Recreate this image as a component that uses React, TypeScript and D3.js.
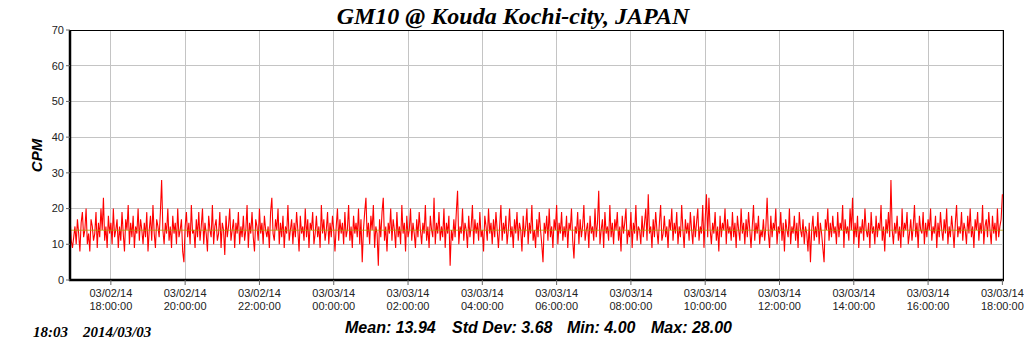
import React from "react";
import * as d3 from "d3";

const TITLE = "GM10 @ Kouda Kochi-city, JAPAN";
const Y_LABEL = "CPM";
const STAMP_TIME = "18:03";
const STAMP_DATE = "2014/03/03";
const STAT_LABELS = ["Mean: 13.94", "Std Dev: 3.68", "Min: 4.00", "Max: 28.00"];
const MEAN_VALUE = 13.94;
const Y_TICKS = [0, 10, 20, 30, 40, 50, 60, 70];
const START = new Date(2014, 2, 2, 16, 54);
const END = new Date(2014, 2, 3, 18, 1);
const STEP_MIN = 2;

const CPM: number[] = [
  18, 11, 9, 12, 15, 10, 17, 13, 8, 16, 19, 12, 14, 20, 10, 13, 8, 17, 15, 11,
  13, 19, 9, 16, 12, 20, 14, 23, 11, 15, 9, 18, 13, 16, 10, 20, 12, 14, 17, 9,
  15, 11, 19, 13, 8, 17, 14, 21, 10, 16, 12, 18, 9, 15, 13, 20, 11, 17, 14, 10,
  16, 12, 19, 8, 14, 18, 11, 21, 13, 9, 17, 15, 12, 19, 28, 14, 10, 16, 13, 20,
  11, 15, 9, 18, 13, 16, 10, 20, 12, 14, 17, 8, 5, 15, 19, 12, 16, 10, 21, 13,
  14, 9, 17, 12, 19, 11, 15, 20, 10, 16, 13, 8, 18, 14, 12, 21, 10, 15, 17, 11,
  13, 19, 9, 16, 14, 7, 18, 12, 15, 20, 11, 14, 17, 9, 16, 13, 19, 10, 15, 12,
  18, 11, 14, 21, 9, 16, 13, 19, 12, 8, 17, 15, 11, 20, 13, 16, 10, 18, 14, 12,
  15, 9, 19, 23, 13, 11, 17, 14, 20, 10, 16, 12, 18, 9, 15, 13, 21, 11, 14, 17,
  10, 16, 12, 19, 14, 8, 18, 13, 15, 11, 20, 12, 17, 9, 16, 14, 19, 10, 13, 18,
  12, 15, 9, 21, 13, 17, 11, 14, 19, 10, 16, 12, 18, 14, 8, 15, 20, 11, 17, 13,
  16, 10, 19, 12, 14, 21, 11, 15, 9, 18, 13, 16, 12, 20, 10, 17, 5, 14, 19, 23,
  12, 16, 10, 18, 14, 21, 9, 15, 13, 4, 17, 12, 19, 23, 11, 15, 8, 16, 13, 20,
  11, 17, 14, 9, 19, 12, 15, 10, 21, 13, 16, 8, 18, 12, 14, 20, 11, 16, 13, 9,
  17, 12, 19, 14, 10, 16, 13, 21, 11, 15, 9, 18, 14, 12, 23, 10, 16, 13, 19, 11,
  15, 12, 20, 9, 16, 13, 18, 4, 14, 11, 17, 12, 19, 25, 10, 15, 13, 20, 11, 16,
  14, 9, 18, 12, 15, 21, 10, 17, 13, 16, 11, 19, 12, 14, 8, 18, 15, 11, 20, 13,
  16, 10, 17, 12, 19, 14, 9, 15, 21, 11, 16, 13, 18, 10, 14, 20, 12, 15, 9, 17,
  13, 19, 11, 16, 14, 8, 18, 12, 15, 20, 10, 16, 13, 21, 11, 14, 9, 17, 12, 19,
  14, 10, 5, 16, 13, 18, 11, 20, 12, 15, 9, 17, 14, 21, 10, 16, 13, 19, 11, 15,
  12, 18, 9, 16, 14, 20, 11, 6, 15, 13, 19, 10, 17, 12, 15, 21, 11, 14, 16, 9,
  18, 13, 15, 11, 20, 12, 16, 25, 10, 14, 17, 9, 19, 13, 15, 11, 21, 12, 16, 10,
  17, 14, 19, 11, 15, 8, 18, 13, 16, 20, 10, 14, 12, 19, 9, 16, 13, 21, 11, 15,
  14, 10, 18, 12, 16, 20, 11, 24, 13, 15, 9, 17, 12, 19, 14, 10, 16, 21, 11, 13,
  18, 12, 15, 9, 17, 14, 20, 11, 16, 13, 19, 10, 15, 12, 21, 14, 9, 17, 13, 16,
  11, 19, 14, 10, 18, 12, 16, 20, 11, 15, 13, 21, 9, 17, 24, 12, 23, 14, 10, 16,
  13, 19, 11, 15, 8, 18, 12, 16, 14, 20, 10, 17, 13, 15, 11, 19, 12, 16, 9, 18,
  14, 11, 20, 13, 16, 10, 17, 12, 19, 14, 9, 15, 21, 11, 16, 13, 18, 10, 14, 12,
  17, 11, 15, 23, 13, 9, 18, 12, 16, 14, 20, 10, 15, 13, 19, 11, 16, 8, 17, 14,
  12, 20, 10, 15, 13, 18, 11, 16, 9, 19, 14, 12, 17, 10, 15, 13, 8, 16, 5, 14,
  18, 11, 15, 12, 19, 10, 16, 13, 9, 5, 17, 14, 20, 11, 16, 12, 18, 13, 15, 10,
  19, 12, 16, 14, 21, 9, 17, 13, 15, 11, 20, 14, 23, 10, 16, 12, 18, 9, 15, 13,
  17, 11, 20, 14, 12, 16, 9, 19, 13, 15, 10, 18, 12, 16, 14, 21, 11, 15, 8, 17,
  13, 19, 12, 28, 14, 10, 16, 13, 18, 11, 15, 9, 20, 12, 16, 14, 19, 10, 13, 17,
  11, 15, 21, 12, 16, 9, 18, 14, 13, 19, 10, 16, 12, 17, 14, 20, 11, 15, 13, 18,
  9, 16, 12, 19, 14, 11, 17, 13, 20, 10, 15, 12, 18, 14, 9, 16, 21, 12, 15, 13,
  19, 11, 16, 14, 10, 18, 13, 20, 12, 15, 9, 17, 14, 19, 11, 16, 13, 21, 10, 15,
  17, 12, 19, 14, 10, 18, 13, 16, 11, 20, 12, 15, 17, 24,
];

const W = 1024;
const H = 351;
const L = 70;
const R = 1003;
const T = 30;
const B = 280;

export default function App() {
  const x = d3.scaleTime().domain([START, END]).range([L, R]);
  const y = d3.scaleLinear().domain([0, 70]).range([B, T]);
  const pts = CPM.map((v, i) => ({ t: new Date(START.getTime() + i * STEP_MIN * 60000), v }));
  const line = d3
    .line<{ t: Date; v: number }>()
    .x((d) => x(d.t))
    .y((d) => y(d.v));
  const xTicks = x.ticks(d3.timeHour.every(2)!);
  const fDate = d3.timeFormat("%m/%d/%y");
  const fTime = d3.timeFormat("%H:%M:%S");
  const sans = "Arial, 'Liberation Sans', sans-serif";
  const serif = "'Times New Roman', 'Liberation Serif', serif";
  const statX = [345, 452, 567, 651];

  return (
    <svg width={W} height={H} style={{ position: "absolute", left: 0, top: 0, background: "#fff" }}>
      <defs>
        <clipPath id="plotclip">
          <rect x={L} y={T} width={R - L} height={B - T} />
        </clipPath>
      </defs>
      <rect x={0} y={0} width={W} height={H} fill="#fff" />
      <text x={513} y={24} textAnchor="middle" fontFamily={serif} fontWeight="bold" fontStyle="italic" fontSize={24} fill="#000">
        {TITLE}
      </text>
      {Y_TICKS.slice(1, -1).map((t) => (
        <line key={"gy" + t} x1={L} x2={R} y1={y(t)} y2={y(t)} stroke="#c4c4c4" strokeWidth={1} shapeRendering="crispEdges" />
      ))}
      {xTicks.map((t, i) => (
        <line key={"gx" + i} x1={x(t)} x2={x(t)} y1={T} y2={B} stroke="#c4c4c4" strokeWidth={1} shapeRendering="crispEdges" />
      ))}
      <g clipPath="url(#plotclip)">
        <path d={line(pts) || ""} fill="none" stroke="#ff0000" strokeWidth={1.1} />
        <line x1={L} x2={R} y1={y(MEAN_VALUE)} y2={y(MEAN_VALUE)} stroke="#b09a00" strokeWidth={1} strokeOpacity={0.8} />
      </g>
      <line x1={L} x2={R} y1={T + 0.5} y2={T + 0.5} stroke="#000" strokeWidth={1} />
      <line x1={R + 0.5} x2={R + 0.5} y1={T} y2={B} stroke="#000" strokeWidth={1} />
      <line x1={L} x2={L} y1={T} y2={B + 1} stroke="#000" strokeWidth={2.5} />
      <line x1={L - 1} x2={R + 1} y1={B} y2={B} stroke="#000" strokeWidth={2.5} />
      {Y_TICKS.map((t) => (
        <g key={"yt" + t}>
          <line x1={L - 4} x2={L} y1={y(t)} y2={y(t)} stroke="#666" strokeWidth={1} />
          <text x={64} y={y(t)} dy="0.35em" textAnchor="end" fontFamily={sans} fontSize={11} fill="#222">
            {t}
          </text>
        </g>
      ))}
      {xTicks.map((t, i) => (
        <g key={"xt" + i}>
          <line x1={x(t)} x2={x(t)} y1={B} y2={B + 5} stroke="#666" strokeWidth={1} />
          <text x={x(t)} y={297} textAnchor="middle" fontFamily={sans} fontSize={11} fill="#222">
            {fDate(t)}
          </text>
          <text x={x(t)} y={310} textAnchor="middle" fontFamily={sans} fontSize={11} fill="#222">
            {fTime(t)}
          </text>
        </g>
      ))}
      <text transform="translate(42,155.5) rotate(-90)" textAnchor="middle" fontFamily={sans} fontWeight="bold" fontStyle="italic" fontSize={15} fill="#000">
        {Y_LABEL}
      </text>
      <text x={33} y={337} fontFamily={serif} fontWeight="bold" fontStyle="italic" fontSize={15} fill="#000">
        {STAMP_TIME}
      </text>
      <text x={83} y={337} fontFamily={serif} fontWeight="bold" fontStyle="italic" fontSize={15} fill="#000">
        {STAMP_DATE}
      </text>
      {STAT_LABELS.map((s, i) => (
        <text key={s} x={statX[i]} y={333} fontFamily={sans} fontWeight="bold" fontStyle="italic" fontSize={16} fill="#000">
          {s}
        </text>
      ))}
    </svg>
  );
}
